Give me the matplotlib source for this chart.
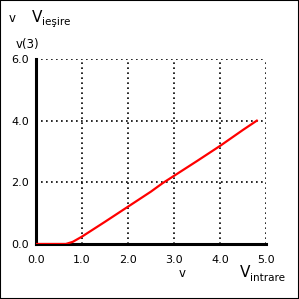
import matplotlib.pyplot as plt
from matplotlib.patches import Rectangle

# transfer characteristic v(3) vs input
v_in = [0.0, 0.65, 0.8, 1.0, 1.5, 2.0, 2.5, 2.75, 3.0, 3.5, 4.0, 4.5, 4.8]
v_out = [0.0, 0.0, 0.07, 0.24, 0.72, 1.21, 1.70, 1.97, 2.21, 2.69, 3.18, 3.70, 4.0]
x_ticks = [0.0, 1.0, 2.0, 3.0, 4.0, 5.0]
y_ticks = [0.0, 2.0, 4.0, 6.0]

fig = plt.figure(figsize=(2.99, 2.99), dpi=100)
fig.patches.append(Rectangle((0, 0), 1, 1, transform=fig.transFigure,
                             fill=False, edgecolor='black', lw=1.5))
ax = fig.add_axes([0.1204, 0.184, 0.7692, 0.6187])

ax.plot(v_in, v_out, color='red', lw=1.6, zorder=3)
ax.set_xlim(0, 5)
ax.set_ylim(0, 6)

for s in ['top', 'right']:
    ax.spines[s].set_visible(False)
ax.spines['left'].set_linewidth(2.2)
ax.spines['bottom'].set_linewidth(2.2)

ax.set_xticks(x_ticks)
ax.set_yticks(y_ticks)
ax.set_xticklabels(['%.1f' % t for t in x_ticks], fontsize=8)
ax.set_yticklabels(['%.1f' % t for t in y_ticks], fontsize=8)
ax.tick_params(axis='x', length=0, pad=8)
ax.tick_params(axis='y', length=0, pad=5)
ax.grid(True, color='black', linestyle=(0, (1, 2)), lw=1.2)

# axis titles
fig.text(9 / 299, 1 - 22 / 299, 'v', fontsize=8.5)
fig.text(32 / 299, 1 - 22 / 299, 'V', fontsize=11)
fig.text(42 / 299, 1 - 25 / 299, 'ieşire', fontsize=7.5)
fig.text(16 / 299, 1 - 48 / 299, 'v(3)', fontsize=8.5)
fig.text(179 / 299, 1 - 277 / 299, 'v', fontsize=8.5)
fig.text(240 / 299, 1 - 277 / 299, 'V', fontsize=11)
fig.text(250 / 299, 1 - 281 / 299, 'intrare', fontsize=7.5)

fig.savefig('out.png', dpi=100)
